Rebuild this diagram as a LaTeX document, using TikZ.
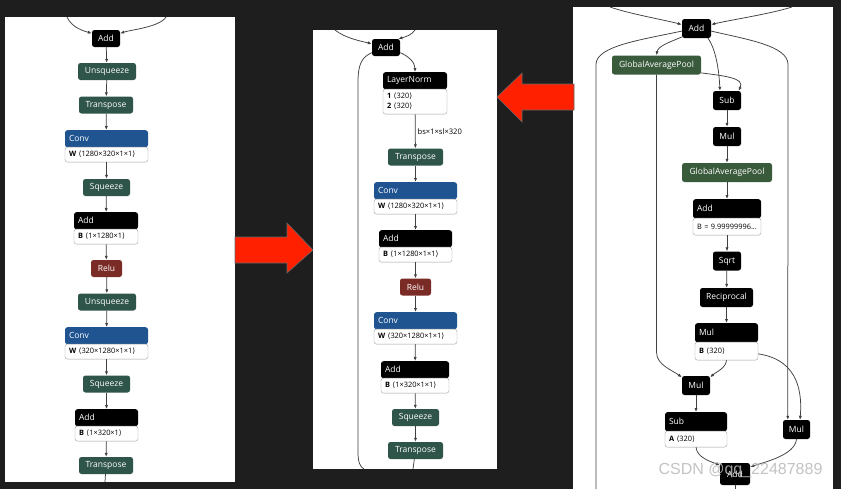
\documentclass[tikz,border=0pt]{standalone}
\usepackage{fontspec}
\usepackage{tikz}
\usetikzlibrary{arrows.meta,positioning}
\newfontfamily\netfont{Open Sans}
\newfontfamily\brkfont{DejaVu Sans}
\newfontfamily\markfont{Liberation Sans}
\newcommand\tdim[1]{{\brkfont⟨}#1{\brkfont⟩}}
\definecolor{bgdark}{HTML}{1E1E1E}
\definecolor{shpgreen}{HTML}{2F5449}
\definecolor{poolgreen}{HTML}{3A5A3C}
\definecolor{convblue}{HTML}{1F5491}
\definecolor{relured}{HTML}{7A2B25}
\definecolor{arrowred}{HTML}{FF2000}
\definecolor{edgegray}{HTML}{404040}

\begin{document}
\begin{tikzpicture}[x=1pt, y=-1pt,
    op/.style={rectangle, rounded corners=2.5pt, fill=black, text=white, minimum height=17pt,
               inner xsep=4pt, inner ysep=0pt, font=\netfont\fontsize{8.5}{10}\selectfont},
    shp/.style={op, fill=shpgreen},
    relu/.style={op, fill=relured},
    pool/.style={op, fill=poolgreen},
    head/.style={op, anchor=north, text width=#1, align=left},
    attr/.style={rectangle, rounded corners=2.5pt, draw=gray!75, fill=white, text=black, anchor=north,
                 text width=#1, align=left, inner xsep=4pt, inner ysep=2pt, minimum height=15pt,
                 font=\netfont\fontsize{7.4}{10}\selectfont},
    edge/.style={draw=edgegray, line width=0.75pt, -{Latex[length=4pt,width=3.2pt]}},
    wire/.style={draw=edgegray, line width=0.75pt},
    panel/.style={fill=white},
    bigarrow/.style={fill=arrowred, draw=black!60, line width=0.6pt}
  ]
    \fill[bgdark] (0,0) rectangle (841,489);
    \fill[panel] (5,17) rectangle (235,482);
    \fill[panel] (313,30) rectangle (497,469);
    \fill[panel] (573,7) rectangle (833,489);

    \draw[bigarrow] (235,237) -- (287,237) -- (287,223) -- (313,250) -- (287,273) -- (287,263) -- (235,263) -- cycle;
    \draw[bigarrow] (574,84) -- (522,84) -- (522,73) -- (497,97) -- (522,122) -- (522,110) -- (574,110) -- cycle;

    % left panel
    \node[op, minimum width=28pt] (p1add) at (106,38.5) {Add};
    \node[shp, minimum width=58pt] (p1unsq1) at (107,71.5) {Unsqueeze};
    \node[shp, minimum width=54pt] (p1tr1) at (106,105) {Transpose};
    \node[head=75pt, fill=convblue] (p1conv1) at (106.5,130) {Conv};
    \node[attr=75pt, below=-0.5pt of p1conv1] (p1conv1b) {\textbf{W} \tdim{1280×320×1×1}};
    \node[shp, minimum width=47pt] (p1sq1) at (106.5,187.5) {Squeeze};
    \node[head=56pt] (p1add1) at (106,212) {Add};
    \node[attr=56pt, below=-0.5pt of p1add1] (p1add1b) {\textbf{B} \tdim{1×1280×1}};
    \node[relu, minimum width=31pt] (p1relu) at (106.5,268.5) {Relu};
    \node[shp, minimum width=58pt] (p1unsq2) at (107,302) {Unsqueeze};
    \node[head=75pt, fill=convblue] (p1conv2) at (106.5,327) {Conv};
    \node[attr=75pt, below=-0.5pt of p1conv2] (p1conv2b) {\textbf{W} \tdim{320×1280×1×1}};
    \node[shp, minimum width=47pt] (p1sq2) at (106.5,384) {Squeeze};
    \node[head=55pt] (p1add2) at (106.5,409) {Add};
    \node[attr=55pt, below=-0.5pt of p1add2] (p1add2b) {\textbf{B} \tdim{1×320×1}};
    \node[shp, minimum width=54pt] (p1tr2) at (106,465.5) {Transpose};
    \coordinate (p1inL) at (67,17);
    \coordinate (p1inR) at (166,17);
    \coordinate (p1out) at (105,482);

    % middle panel
    \node[op, minimum width=28pt] (p2add) at (386,47.5) {Add};
    \node[head=56pt] (p2ln) at (415,72) {LayerNorm};
    \node[attr=56pt, minimum height=25pt, below=-0.5pt of p2ln] (p2lnb) {\textbf{1} \tdim{320}\\\textbf{2} \tdim{320}};
    \node[shp, minimum width=55pt] (p2tr1) at (415.5,157) {Transpose};
    \node[head=75pt, fill=convblue] (p2conv1) at (415.5,182) {Conv};
    \node[attr=75pt, below=-0.5pt of p2conv1] (p2conv1b) {\textbf{W} \tdim{1280×320×1×1}};
    \node[head=65pt] (p2add1) at (415.5,230) {Add};
    \node[attr=65pt, below=-0.5pt of p2add1] (p2add1b) {\textbf{B} \tdim{1×1280×1×1}};
    \node[relu, minimum width=31pt] (p2relu) at (415.5,287) {Relu};
    \node[head=75pt, fill=convblue] (p2conv2) at (415.5,312) {Conv};
    \node[attr=75pt, below=-0.5pt of p2conv2] (p2conv2b) {\textbf{W} \tdim{320×1280×1×1}};
    \node[head=60pt] (p2add2) at (415,361) {Add};
    \node[attr=60pt, below=-0.5pt of p2add2] (p2add2b) {\textbf{B} \tdim{1×320×1×1}};
    \node[shp, minimum width=47pt] (p2sq) at (415.5,417.5) {Squeeze};
    \node[shp, minimum width=55pt] (p2tr2) at (415.5,450.5) {Transpose};
    \coordinate (p2inL) at (335,30);
    \coordinate (p2inR) at (415,30);
    \coordinate (p2outL) at (364,469);
    \coordinate (p2outR) at (413,469);

    % right panel
    \begin{scope}[op/.append style={minimum height=19pt}]
    \node[op, minimum width=29pt] (p3add) at (696.5,28.5) {Add};
    \node[pool, minimum width=89pt] (p3gap1) at (656.5,65) {GlobalAveragePool};
    \node[op, minimum width=28pt] (p3sub) at (727,100.5) {Sub};
    \node[op, minimum width=28pt] (p3mul1) at (727,136.5) {Mul};
    \node[pool, minimum width=90pt] (p3gap2) at (727,172.5) {GlobalAveragePool};
    \node[head=60pt] (p3add1) at (727,199) {Add};
    \node[attr=60pt, minimum height=17pt, below=-0.5pt of p3add1] (p3add1b) {B = 9.99999996...};
    \node[op, minimum width=28pt] (p3sqrt) at (727,261) {Sqrt};
    \node[op, minimum width=53pt] (p3rec) at (726.5,297.5) {Reciprocal};
    \node[head=55pt] (p3mul2) at (726.5,323) {Mul};
    \node[attr=55pt, minimum height=18pt, below=-0.5pt of p3mul2] (p3mul2b) {\textbf{B} \tdim{320}};
    \node[op, minimum width=28pt] (p3mul3) at (696,385.5) {Mul};
    \node[head=54pt] (p3sub2) at (696,412) {Sub};
    \node[attr=54pt, minimum height=16pt, below=-0.5pt of p3sub2] (p3sub2b) {\textbf{A} \tdim{320}};
    \node[op, minimum width=27pt] (p3mul4) at (796.5,429.5) {Mul};
    \node[op, minimum width=30pt, minimum height=22pt] (p3add2) at (735,474) {Add};
    \end{scope}
    \coordinate (p3inL) at (610,7);
    \coordinate (p3inR) at (792,7);
    \coordinate (p3outL) at (596,489);
    \coordinate (p3outB) at (735,489);

    \foreach \a/\b in {p1add/p1unsq1, p1unsq1/p1tr1, p1tr1/p1conv1, p1conv1b/p1sq1, p1sq1/p1add1,
                       p1add1b/p1relu, p1relu/p1unsq2, p1unsq2/p1conv2, p1conv2b/p1sq2, p1sq2/p1add2,
                       p1add2b/p1tr2, p2tr1/p2conv1, p2conv1b/p2add1, p2add1b/p2relu, p2relu/p2conv2,
                       p2conv2b/p2add2, p2add2b/p2sq, p2sq/p2tr2, p3sub/p3mul1, p3mul1/p3gap2,
                       p3gap2/p3add1, p3add1b/p3sqrt, p3sqrt/p3rec, p3rec/p3mul2, p3mul3/p3sub2}
      \draw[edge] (\a) -- (\b);

    \draw[edge] (p1inL) .. controls (72,28) and (84,31) .. (p1add.160);
    \draw[edge] (p1inR) .. controls (160,27) and (130,30) .. (p1add.20);
    \draw[wire] (p1tr2) -- (p1out);

    \draw[edge] (p2inL) .. controls (345,38) and (360,41) .. (p2add.165);
    \draw[edge] (p2inR) .. controls (412,35) and (405,37) .. (p2add.35);
    \draw[edge] (p2add.-20) .. controls (408,56) and (415,62) .. (p2ln.north);
    \draw[edge] (p2lnb) -- node[right, inner sep=2pt, font=\netfont\fontsize{7.6}{9}\selectfont] (p2dims) {bs×1×sl×320} (p2tr1);
    \draw[wire] (p2add.200) .. controls (362,57) and (358,64) .. (358,82) -- (358,452)
                .. controls (358,462) and (360,467) .. (p2outL);
    \draw[wire] (p2tr2) -- (p2outR);

    \draw[edge] (p3inL) .. controls (630,14) and (665,20) .. (p3add.165);
    \draw[edge] (p3inR) .. controls (770,14) and (730,20) .. (p3add.15);
    \draw[edge] (p3add.-150) .. controls (670,42) and (658,46) .. (p3gap1.north);
    \draw[edge] (p3add.-40) .. controls (716,50) and (719,70) .. (p3sub.126);
    \draw[edge] (p3gap1.-10) .. controls (725,76) and (745,78) .. (p3sub.40);
    \draw[wire] (p3add.190) .. controls (640,40) and (597,46) .. (596,64) -- (p3outL);
    \draw[edge] (p3add.-10) .. controls (750,40) and (787,46) .. (788,64) -- (p3mul4.132);
    \draw[edge] (p3gap1.south) -- (656.5,352) .. controls (656.5,365) and (672,370) .. (p3mul3.150);
    \draw[edge] (p3mul2b.south) .. controls (726,368) and (716,372) .. (p3mul3.30);
    \draw[edge] (p3mul2b.-5) .. controls (800,360) and (802,395) .. (p3mul4.70);
    \draw[edge] (p3sub2b.south) .. controls (697,458) and (712,462) .. (p3add2.150);
    \draw[edge] (p3mul4.south) .. controls (795,455) and (765,462) .. (p3add2.25);
    \draw[wire] (p3add2) -- (p3outB);

    \node[font=\markfont\fontsize{16}{16}\selectfont, text=gray!55, opacity=0.85] (wmark) at (740.5,470) {CSDN @qq\_22487889};
\end{tikzpicture}
\end{document}
